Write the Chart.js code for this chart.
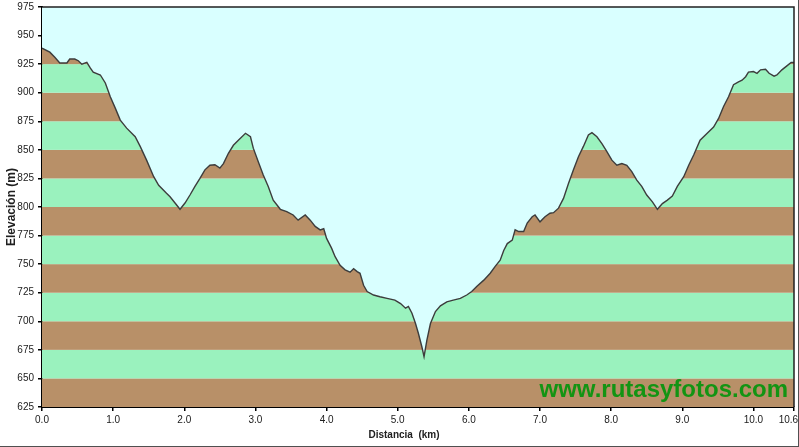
<!DOCTYPE html>
<html>
<head>
<meta charset="utf-8">
<script src="https://cdn.jsdelivr.net/npm/chart.js@4.4.0/dist/chart.umd.min.js"></script>
<style>
    html, body { margin: 0; padding: 0; background: #ffffff; }
    #wrap {
        width: 799px; height: 447px; box-sizing: border-box;
        border-right: 1px solid #505050; border-bottom: 1px solid #505050;
    }
    #wrap canvas { display: block; }
</style>
</head>
<body>
<div id="wrap"><canvas id="profileChart" width="798" height="446"></canvas></div>
<script>
// Elevation profile - distance (km) vs elevation (m)

const distKm = [
    0.00, 0.11, 0.18, 0.25, 0.35, 0.39, 0.46, 0.51, 0.56, 0.63, 0.68, 0.72, 0.82, 0.89, 0.96,
    1.03, 1.10, 1.19, 1.31, 1.38, 1.47, 1.57, 1.64, 1.75, 1.80, 1.87, 1.94, 2.01, 2.08, 2.15,
    2.22, 2.29, 2.36, 2.43, 2.50, 2.55, 2.62, 2.69, 2.76, 2.86, 2.93, 2.97, 3.04, 3.11, 3.18,
    3.25, 3.35, 3.44, 3.53, 3.60, 3.70, 3.77, 3.84, 3.91, 3.96, 4.00, 4.07, 4.12, 4.19, 4.26,
    4.33, 4.38, 4.43, 4.47, 4.52, 4.57, 4.66, 4.75, 4.85, 4.96, 5.04, 5.11, 5.15, 5.20, 5.25,
    5.29, 5.34, 5.37, 5.41, 5.46, 5.53, 5.60, 5.69, 5.78, 5.88, 5.97, 6.04, 6.11, 6.21, 6.30,
    6.37, 6.44, 6.49, 6.54, 6.61, 6.65, 6.70, 6.77, 6.82, 6.89, 6.93, 7.00, 7.07, 7.14, 7.19,
    7.26, 7.33, 7.40, 7.47, 7.54, 7.61, 7.68, 7.73, 7.80, 7.87, 7.94, 8.01, 8.08, 8.15, 8.22,
    8.29, 8.36, 8.43, 8.50, 8.58, 8.65, 8.72, 8.79, 8.86, 8.93, 9.02, 9.09, 9.16, 9.25, 9.35,
    9.44, 9.51, 9.58, 9.65, 9.72, 9.79, 9.84, 9.89, 9.93, 10.00, 10.05, 10.10, 10.17, 10.22, 10.29,
    10.33, 10.40, 10.47, 10.53, 10.57
];

const elevM = [
    939, 935.5, 931, 926, 926, 929.5, 929.5, 928, 925, 926.5, 921.5, 918, 915.5, 908.5, 896.5,
    886.5, 876, 869, 861.5, 853, 841, 826.5, 819, 812, 809, 803.5, 798, 803.5, 810.5, 818,
    825, 832.5, 836.5, 837, 834, 838, 847, 854, 858.5, 864.5, 861.5, 851.5, 839.5, 828, 818,
    806, 798, 796, 793, 788.5, 793, 788.5, 783, 780, 781, 772.5, 764, 756.5, 749, 745,
    743, 746, 743.5, 742, 731.5, 726, 723, 721.5, 720, 718.5, 715.5, 711.5, 713, 707, 698,
    689.5, 677.5, 669, 683.5, 698, 708.5, 713.5, 717, 718.5, 720, 723, 726, 730.5, 736, 742,
    748, 753.5, 762, 768, 771, 780, 778.5, 778.5, 786, 791.5, 793, 787, 791.5, 794.5, 795,
    799, 807.5, 820.5, 832.5, 844, 853, 863, 865, 861.5, 855.5, 848.5, 841, 836.5, 838, 836.5,
    831, 823.5, 818, 810.5, 804.5, 798, 803, 806, 809.5, 818, 826.5, 836.5, 845.5, 858.5, 864.5,
    870, 877.5, 888, 896.5, 907, 909.5, 911, 914, 918, 918.5, 917, 920, 920.5, 917, 914.5,
    915.5, 920, 923.5, 926.5, 926.5
];

const xTickValues = [0, 1, 2, 3, 4, 5, 6, 7, 8, 9, 10, 10.57];
const yMin = 625;
const yMax = 975;
const yStep = 25;

const brownBand = '#b89068';
const greenBand = '#9af2be';
const skyColor = '#d9ffff';

// Draw alternating elevation bands behind the profile
const bandPlugin = {
    id: 'bands',
    beforeDatasetsDraw(chart) {
        const { ctx, chartArea, scales } = chart;
        const y = scales.y;
        ctx.save();
        for (let v = yMin, i = 0; v < yMax; v += yStep, i++) {
            const top = y.getPixelForValue(v + yStep);
            const bottom = y.getPixelForValue(v);
            ctx.fillStyle = i % 2 === 0 ? brownBand : greenBand;
            ctx.fillRect(chartArea.left, top, chartArea.right - chartArea.left, bottom - top);
        }
        ctx.restore();
    },
    afterDraw(chart) {
        const { ctx, chartArea } = chart;
        ctx.save();
        // frame on top/right
        ctx.strokeStyle = '#202020';
        ctx.lineWidth = 1.5;
        ctx.beginPath();
        ctx.moveTo(chartArea.left, chartArea.top);
        ctx.lineTo(chartArea.right, chartArea.top);
        ctx.lineTo(chartArea.right, chartArea.bottom);
        ctx.stroke();
        // watermark
        ctx.font = 'bold 24px "Liberation Sans", Arial, sans-serif';
        ctx.fillStyle = '#139413';
        ctx.textAlign = 'right';
        ctx.textBaseline = 'alphabetic';
        ctx.fillText('www.rutasyfotos.com', 788, 397);
        // x axis title
        ctx.font = 'bold 10px "Liberation Sans", Arial, sans-serif';
        ctx.fillStyle = '#202020';
        ctx.textAlign = 'center';
        ctx.textBaseline = 'middle';
        ctx.fillText('Distancia  (km)', 404, 435);
        ctx.restore();
    }
};

const tickFont = { family: '"Liberation Sans", Arial, sans-serif', size: 10 };

new Chart(document.getElementById('profileChart'), {
    type: 'line',
    data: {
        datasets: [{
            data: distKm.map((d, i) => ({ x: d, y: elevM[i] })),
            borderColor: '#3c3c3c',
            borderWidth: 1.4,
            pointRadius: 0,
            tension: 0,
            fill: 'end',
            backgroundColor: skyColor
        }]
    },
    options: {
        responsive: false,
        animation: false,
        layout: { padding: { top: 7, right: 4, left: 0, bottom: 0 } },
        plugins: {
            legend: { display: false },
            tooltip: { enabled: false }
        },
        scales: {
            x: {
                type: 'linear',
                min: 0,
                max: 10.57,
                afterBuildTicks(scale) {
                    scale.ticks = xTickValues.map(v => ({ value: v }));
                },
                afterFit(scale) {
                    scale.height = 39;
                    scale.paddingLeft = 0;
                    scale.paddingRight = 0;
                },
                border: { display: true, color: '#000', width: 2 },
                grid: { display: true, drawOnChartArea: false, drawTicks: true, tickLength: 4, color: '#000', lineWidth: 1.5 },
                ticks: {
                    font: tickFont, color: '#202020', padding: 3, maxRotation: 0, autoSkip: false,
                    // last label sits left of its tick so it stays inside the frame
                    callback: v => v > 10 ? v.toFixed(1) + '    ' : v.toFixed(1)
                }
            },
            y: {
                min: yMin,
                max: yMax,
                afterFit(scale) {
                    scale.width = 42;
                    scale.paddingTop = 0;
                    scale.paddingBottom = 0;
                },
                border: { display: true, color: '#000', width: 2 },
                grid: { display: true, drawOnChartArea: false, drawTicks: true, tickLength: 4, color: '#000', lineWidth: 1.5 },
                ticks: { stepSize: yStep, font: tickFont, color: '#202020', padding: 4 },
                title: {
                    display: true,
                    text: 'Elevación (m)',
                    color: '#202020',
                    font: { family: '"Liberation Sans", Arial, sans-serif', size: 12, weight: 'bold' },
                    padding: { top: 4, bottom: 0 }
                }
            }
        }
    },
    plugins: [bandPlugin]
});
</script>
</body>
</html>
